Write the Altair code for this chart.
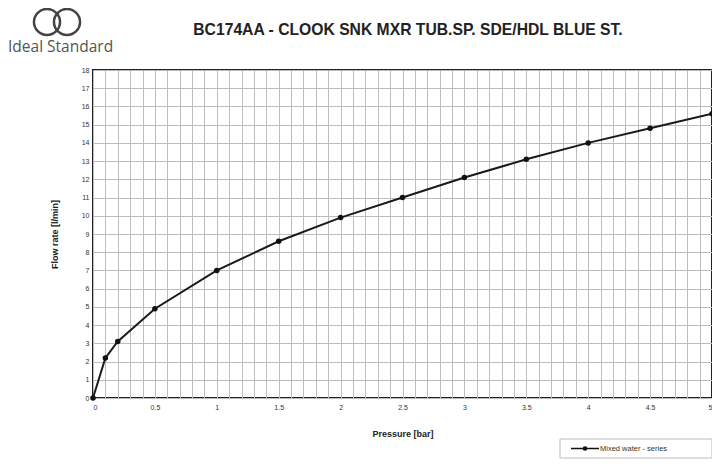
import altair as alt
import pandas as pd

pressure = [0, 0.1, 0.2, 0.5, 1.0, 1.5, 2.0, 2.5, 3.0, 3.5, 4.0, 4.5, 5.0]
flow = [0, 2.2, 3.1, 4.9, 7.0, 8.6, 9.9, 11.0, 12.1, 13.1, 14.0, 14.8, 15.6]
series_name = "Mixed water - series"
title_text = "BC174AA - CLOOK SNK MXR TUB.SP. SDE/HDL BLUE ST."
brand = "Ideal Standard"
x_ticks = [round(i * 0.1, 1) for i in range(51)]
y_ticks = list(range(19))

df = pd.DataFrame({"p": pressure, "q": flow})

W, H = 619, 328

x = alt.X("p:Q", scale=alt.Scale(domain=[0, 5], nice=False),
          axis=alt.Axis(values=x_ticks, title="Pressure [bar]",
                        labelExpr="abs(datum.value*2 - round(datum.value*2)) < 0.001 ? format(datum.value, '~g') : ''",
                        labelFontSize=7, labelPadding=5, ticks=False, domain=False,
                        labelOverlap=False,
                        gridColor="#bdbdbd", gridWidth=1,
                        titleFontSize=9, titleFontWeight="bold", titlePadding=19,
                        labelColor="#333", titleColor="#222"))
y = alt.Y("q:Q", scale=alt.Scale(domain=[0, 18], nice=False),
          axis=alt.Axis(values=y_ticks, title="Flow rate [l/min]",
                        labelFontSize=7, labelPadding=4, ticks=False, domain=False,
                        labelOverlap=False,
                        gridColor="#bdbdbd", gridWidth=1,
                        titleFontSize=9, titleFontWeight="bold", titlePadding=22,
                        labelColor="#333", titleColor="#222"))

data_base = alt.Chart(df).encode(x=x, y=y)
line = data_base.mark_line(color="#1a1a1a", strokeWidth=2)
pts = data_base.mark_point(filled=True, color="#111", size=30, opacity=1)

one = pd.DataFrame({"a": [0]})
base = alt.Chart(one)

title = base.mark_text(font="Liberation Sans", fontSize=15.7, fontWeight="bold", color="#222",
                       align="center", baseline="middle").encode(
    x=alt.value(315), y=alt.value(-40), text=alt.value(title_text))

brand_t = base.mark_text(font="Open Sans", fontSize=15.5, color="#555", align="left",
                         baseline="alphabetic").encode(
    x=alt.value(-85), y=alt.value(-18), text=alt.value(brand))
ring1 = base.mark_point(shape="circle", filled=False, size=680, strokeWidth=2.5,
                        color="#444", opacity=1).encode(x=alt.value(-46), y=alt.value(-48))
ring2 = base.mark_point(shape="circle", filled=False, size=680, strokeWidth=2.5,
                        color="#444", opacity=1).encode(x=alt.value(-26), y=alt.value(-48))

leg_box = base.mark_rect(fill="white", stroke="#bbb", strokeWidth=1).encode(
    x=alt.value(467), x2=alt.value(619), y=alt.value(369), y2=alt.value(388))
leg_line = base.mark_rule(color="#111", strokeWidth=1.5).encode(
    x=alt.value(478), x2=alt.value(506), y=alt.value(378.5))
leg_pt = base.mark_point(filled=True, color="#111", size=22, opacity=1).encode(
    x=alt.value(492), y=alt.value(378.5))
leg_txt = base.mark_text(fontSize=7.5, color="#333", align="left", baseline="middle",
                         font="Liberation Sans").encode(
    x=alt.value(507), y=alt.value(378.5), text=alt.value(series_name))

chart = alt.layer(line, pts, title, brand_t, ring1, ring2, leg_box, leg_line, leg_pt, leg_txt).properties(
    width=W, height=H,
    autosize=alt.AutoSizeParams(type="none"),
    padding={"left": 85, "top": 62, "right": 0, "bottom": 61},
    background="white",
).configure_view(stroke="#222", strokeWidth=2).configure_axis(labelFont="Liberation Sans", titleFont="Liberation Sans")

chart.save("out.html", embed_options={"renderer": "svg", "actions": False})
